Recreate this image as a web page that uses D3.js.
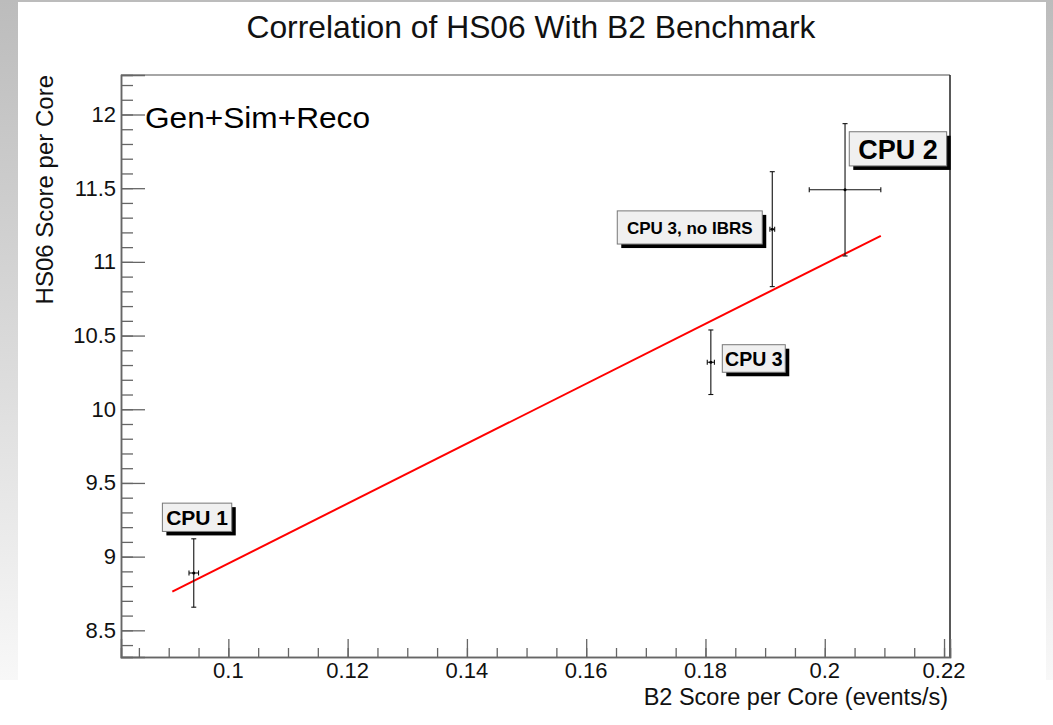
<!DOCTYPE html>
<html>
<head>
<meta charset="utf-8">
<script src="https://cdn.jsdelivr.net/npm/d3@7"></script>
<style>
  html, body { margin: 0; padding: 0; background: #fff; }
  svg { display: block; }
  text { font-family: "Liberation Sans", Arial, Helvetica, sans-serif; }
</style>
</head>
<body>
<svg id="chart" width="1053" height="725"></svg>
<script>
// ---------------- data ----------------
const cpuNames   = ["CPU 1", "CPU 3", "CPU 3, no IBRS", "CPU 2"];
const b2Score    = [0.0942, 0.1809, 0.1912, 0.2034];   // x
const b2Error    = [0.0008, 0.0006, 0.0004, 0.0060];
const hs06Score  = [8.889, 10.319, 11.222, 11.489];    // y
const hs06Error  = [0.232, 0.219, 0.390, 0.449];
const fitX = [0.0906, 0.2094];
const fitY = [8.763, 11.177];
const xTickValues = [0.1, 0.12, 0.14, 0.16, 0.18, 0.2, 0.22];
const xTickLabels = ["0.1", "0.12", "0.14", "0.16", "0.18", "0.2", "0.22"];
const yTickValues = [8.5, 9, 9.5, 10, 10.5, 11, 11.5, 12];
const yTickLabels = ["8.5", "9", "9.5", "10", "10.5", "11", "11.5", "12"];

// label boxes (user coordinates, like ROOT TPaveText)
const labelBoxes = [
  { text: "CPU 1",          x1: 0.08894, x2: 0.10057, y1: 9.171,  y2: 9.363,  size: 21 },
  { text: "CPU 3",          x1: 0.18282, x2: 0.19338, y1: 10.251, y2: 10.438, size: 19.5 },
  { text: "CPU 3, no IBRS", x1: 0.16521, x2: 0.18952, y1: 11.121, y2: 11.346, size: 17 },
  { text: "CPU 2",          x1: 0.20411, x2: 0.22044, y1: 11.651, y2: 11.883, size: 27 }
];

// ---------------- layout ----------------
const W = 1053, H = 725;
const frame = { left: 121, right: 950, top: 75, bottom: 657 };
const svg = d3.select("#chart");

// background
const defs = svg.append("defs");
const g1 = defs.append("linearGradient").attr("id", "sideGrad").attr("x1", 0).attr("y1", 0).attr("x2", 0).attr("y2", 1);
g1.append("stop").attr("offset", "0%").attr("stop-color", "#bcbcbc");
g1.append("stop").attr("offset", "55%").attr("stop-color", "#dcdcdc");
g1.append("stop").attr("offset", "100%").attr("stop-color", "#f8f8f8");
svg.append("rect").attr("width", W).attr("height", H).attr("fill", "#fff");
svg.append("rect").attr("x", 0).attr("y", 0).attr("width", 18).attr("height", 680).attr("fill", "url(#sideGrad)");
svg.append("rect").attr("x", 1046).attr("y", 0).attr("width", 7).attr("height", 680).attr("fill", "url(#sideGrad)");
svg.append("rect").attr("x", 0).attr("y", 0).attr("width", W).attr("height", 2).attr("fill", "#bcbcbc");

// scales
const xScale = d3.scaleLinear().domain([0.082, 0.221]).range([frame.left, frame.right]);
const yScale = d3.scaleLinear().domain([8.319, 12.268]).range([frame.bottom, frame.top]);

const axisColor = "#666";

// frame
svg.append("line").attr("x1", frame.left).attr("x2", frame.right).attr("y1", frame.top).attr("y2", frame.top)
  .attr("stroke", "#888").attr("stroke-width", 1.5);
svg.append("line").attr("x1", frame.right).attr("x2", frame.right).attr("y1", frame.top).attr("y2", frame.bottom)
  .attr("stroke", "#222").attr("stroke-width", 1.5);

// x axis (ticks pointing inward)
const xMinor = d3.range(0.085, 0.2201, 0.005).map(v => +v.toFixed(3));
const xAxisG = svg.append("g").attr("transform", `translate(0,${frame.bottom})`);
xAxisG.call(d3.axisTop(xScale).tickValues(xMinor).tickSize(9).tickFormat(""));
xAxisG.call(g => g.append("g").call(d3.axisTop(xScale).tickValues(xTickValues).tickSize(18).tickFormat("")));
xAxisG.selectAll("path.domain").attr("stroke", axisColor).attr("stroke-width", 1.5);
xAxisG.selectAll(".tick line").attr("stroke", axisColor).attr("stroke-width", 1.3);
svg.append("g").selectAll("text").data(xTickValues).join("text")
  .attr("x", d => xScale(d)).attr("y", 678)
  .attr("text-anchor", "middle").attr("font-size", 22).attr("fill", "#111")
  .text((d, i) => xTickLabels[i]);

// y axis
const yMinor = d3.range(8.4, 12.25, 0.1).map(v => +v.toFixed(1));
const yAxisG = svg.append("g").attr("transform", `translate(${frame.left},0)`);
yAxisG.call(d3.axisRight(yScale).tickValues(yMinor).tickSize(12).tickFormat(""));
yAxisG.call(g => g.append("g").call(d3.axisRight(yScale).tickValues(yTickValues).tickSize(24).tickFormat("")));
yAxisG.selectAll("path.domain").attr("stroke", axisColor).attr("stroke-width", 1.5);
yAxisG.selectAll(".tick line").attr("stroke", axisColor).attr("stroke-width", 1.3);
svg.append("g").selectAll("text").data(yTickValues).join("text")
  .attr("x", 116).attr("y", d => yScale(d) + 7.5)
  .attr("text-anchor", "end").attr("font-size", 22).attr("fill", "#111")
  .text((d, i) => yTickLabels[i]);

// axis titles
svg.append("text").attr("x", 948).attr("y", 705).attr("text-anchor", "end")
  .attr("font-size", 23.5).attr("fill", "#111").text("B2 Score per Core (events/s)");
svg.append("text").attr("transform", "translate(53,75) rotate(-90)").attr("text-anchor", "end")
  .attr("font-size", 24).attr("fill", "#111").text("HS06 Score per Core");

// title
svg.append("text").attr("x", 531).attr("y", 38).attr("text-anchor", "middle")
  .attr("font-size", 31.8).attr("fill", "#111").text("Correlation of HS06 With B2 Benchmark");

// Gen+Sim+Reco
svg.append("text").attr("x", 145).attr("y", 128)
  .attr("font-family", "'Open Sans', 'Noto Sans', sans-serif")
  .attr("font-size", 30).attr("fill", "#000")
  .attr("textLength", 225).attr("lengthAdjust", "spacingAndGlyphs")
  .text("Gen+Sim+Reco");

// fit line
svg.append("path")
  .datum(fitX.map((x, i) => [x, fitY[i]]))
  .attr("d", d3.line().x(d => xScale(d[0])).y(d => yScale(d[1])))
  .attr("stroke", "#ff0000").attr("stroke-width", 2).attr("fill", "none");

// error bars
const pts = cpuNames.map((n, i) => ({ n, x: b2Score[i], ex: b2Error[i], y: hs06Score[i], ey: hs06Error[i] }));
const eg = svg.append("g").attr("stroke", "#111").attr("stroke-width", 1.1);
pts.forEach(p => {
  const cx = xScale(p.x), cy = yScale(p.y);
  const yt = yScale(p.y + p.ey), yb = yScale(p.y - p.ey);
  const xl = xScale(p.x - p.ex), xr = xScale(p.x + p.ex);
  eg.append("line").attr("x1", cx).attr("x2", cx).attr("y1", yt).attr("y2", yb);
  eg.append("line").attr("x1", cx - 2.5).attr("x2", cx + 2.5).attr("y1", yt).attr("y2", yt);
  eg.append("line").attr("x1", cx - 2.5).attr("x2", cx + 2.5).attr("y1", yb).attr("y2", yb);
  eg.append("line").attr("x1", xl).attr("x2", xr).attr("y1", cy).attr("y2", cy);
  eg.append("line").attr("x1", xl).attr("x2", xl).attr("y1", cy - 2.5).attr("y2", cy + 2.5);
  eg.append("line").attr("x1", xr).attr("x2", xr).attr("y1", cy - 2.5).attr("y2", cy + 2.5);
  svg.append("circle").attr("cx", cx).attr("cy", cy).attr("r", 1.5).attr("fill", "#000");
});

// label boxes
labelBoxes.forEach(b => {
  const x = xScale(b.x1), w = xScale(b.x2) - xScale(b.x1);
  const y = yScale(b.y2), h = yScale(b.y1) - yScale(b.y2);
  svg.append("rect").attr("x", x + 4).attr("y", y + 4).attr("width", w).attr("height", h).attr("fill", "#000");
  svg.append("rect").attr("x", x).attr("y", y).attr("width", w).attr("height", h)
    .attr("fill", "#f0f0f0").attr("stroke", "#777").attr("stroke-width", 1);
  svg.append("text").attr("x", x + w / 2).attr("y", y + h / 2 + b.size * 0.36)
    .attr("text-anchor", "middle").attr("font-weight", "bold").attr("font-size", b.size)
    .attr("fill", "#000").text(b.text);
});
</script>
</body>
</html>
